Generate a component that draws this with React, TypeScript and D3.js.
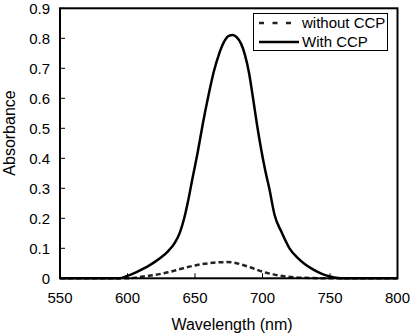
import React from "react";
import * as d3 from "d3";

const withWl = [550, 594, 600, 605, 610, 615, 620, 625, 630, 635, 639, 642, 645, 648, 652, 656, 660, 664, 668, 672, 675, 678, 681, 684, 687, 690, 693, 696, 699, 702, 705, 709, 714, 720, 726, 732, 738, 744, 750, 756, 760, 800];
const withVal = [0, 0, 0.008, 0.017, 0.028, 0.04, 0.054, 0.07, 0.09, 0.118, 0.155, 0.2, 0.26, 0.33, 0.42, 0.52, 0.61, 0.69, 0.75, 0.792, 0.808, 0.811, 0.803, 0.783, 0.745, 0.685, 0.6, 0.51, 0.43, 0.36, 0.3, 0.21, 0.155, 0.1, 0.068, 0.045, 0.028, 0.015, 0.006, 0.001, 0, 0];
const withoutWl = [550, 600, 610, 620, 630, 640, 650, 660, 667, 673, 679, 685, 692, 700, 708, 716, 725, 735, 750, 800];
const withoutVal = [0, 0, 0.005, 0.011, 0.02, 0.032, 0.043, 0.05, 0.053, 0.054, 0.052, 0.045, 0.035, 0.022, 0.013, 0.007, 0.003, 0.001, 0, 0];
const xTicks = [550, 600, 650, 700, 750, 800];
const yTicks = [0, 0.1, 0.2, 0.3, 0.4, 0.5, 0.6, 0.7, 0.8, 0.9];
const seriesNames = ["without CCP", "With CCP"];

export default function App() {
  const L = 60, R = 397.5, T = 8.3, B = 278.3;
  const x = d3.scaleLinear().domain([550, 800]).range([L, R]);
  const y = d3.scaleLinear().domain([0, 0.9]).range([B, T]);
  const line = d3
    .line<[number, number]>()
    .x((d) => x(d[0]))
    .y((d) => y(d[1]))
    .curve(d3.curveMonotoneX);
  const solid = line(withWl.map((w, i) => [w, withVal[i]] as [number, number])) || "";
  const dashed = line(withoutWl.map((w, i) => [w, withoutVal[i]] as [number, number])) || "";
  const font = "'Liberation Sans', Arial, sans-serif";
  return (
    <div style={{ position: "fixed", left: 0, top: 0 }}>
      <svg width={410} height={336} style={{ display: "block", background: "#fff" }}>
        <rect x={0} y={0} width={410} height={336} fill="#fff" />
        {yTicks.map((t) => (
          <g key={"y" + t}>
            <line x1={L} x2={L + 5} y1={y(t)} y2={y(t)} stroke="#000" strokeWidth={1} />
            <text x={50} y={y(t)} dy="0.35em" textAnchor="end" fontFamily={font} fontSize={15} fill="#000">
              {t === 0 ? "0" : d3.format(".1f")(t)}
            </text>
          </g>
        ))}
        {xTicks.map((t) => (
          <g key={"x" + t}>
            <line x1={x(t)} x2={x(t)} y1={B} y2={B - 5} stroke="#000" strokeWidth={1} />
            <text x={x(t)} y={303} textAnchor="middle" fontFamily={font} fontSize={15} fill="#000">
              {t}
            </text>
          </g>
        ))}
        <path d={dashed} fill="none" stroke="#222" strokeWidth={2.5} strokeDasharray="5,3" />
        <path d={solid} fill="none" stroke="#000" strokeWidth={2.5} />
        <rect x={L} y={T} width={R - L} height={B - T} fill="none" stroke="#000" strokeWidth={2} />
        <text x={232} y={330} textAnchor="middle" fontFamily={font} fontSize={16} fill="#000">
          Wavelength (nm)
        </text>
        <text transform="translate(15,133) rotate(-90)" textAnchor="middle" fontFamily={font} fontSize={16} fill="#000">
          Absorbance
        </text>
        <g>
          <rect x={253.5} y={13.5} width={134} height={37} fill="#fff" stroke="#000" strokeWidth={1} />
          <line x1={259} x2={291} y1={23} y2={23} stroke="#222" strokeWidth={2.5} strokeDasharray="5,8.5" />
          <text x={302} y={23} dy="0.35em" fontFamily={font} fontSize={15} fill="#000">
            {seriesNames[0]}
          </text>
          <line x1={259} x2={299} y1={42} y2={42} stroke="#000" strokeWidth={2.5} />
          <text x={302} y={42} dy="0.35em" fontFamily={font} fontSize={15} fill="#000">
            {seriesNames[1]}
          </text>
        </g>
      </svg>
    </div>
  );
}
